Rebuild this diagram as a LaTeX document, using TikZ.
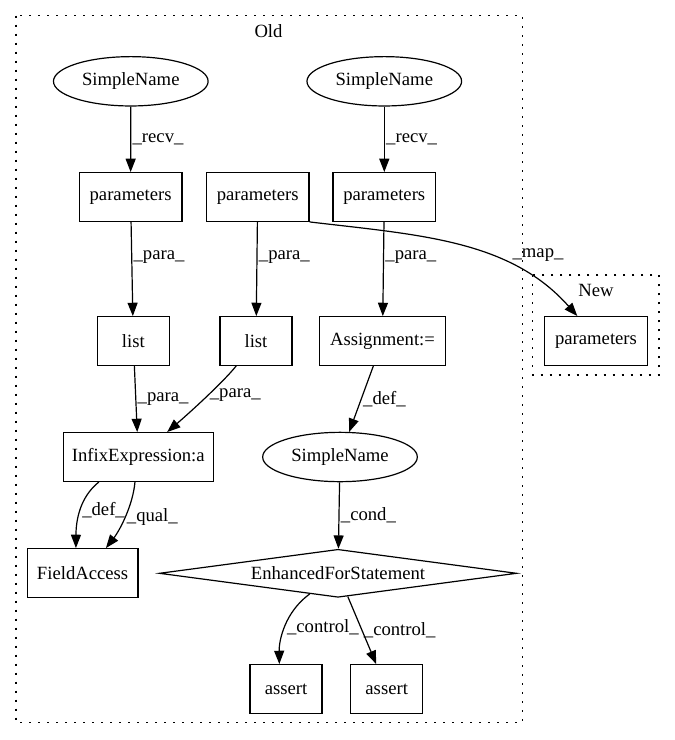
\documentclass[tikz,border=0pt]{standalone}
\usepackage{fontspec}
\setmainfont{Liberation Serif}
\usetikzlibrary{arrows.meta,shapes.geometric}
\begin{document}
\begin{tikzpicture}[x=0.75pt,y=-0.75pt]
  \tikzstyle{box}=[draw,rectangle,line width=0.9pt,inner sep=0pt,minimum height=36.5pt,font=\fontsize{14}{16}\selectfont]
  \tikzstyle{oval}=[draw,ellipse,line width=0.9pt,inner sep=0pt,minimum width=116pt,minimum height=37pt,font=\fontsize{14}{16}\selectfont]
  \tikzstyle{cond}=[draw,diamond,aspect=7.4,line width=0.9pt,inner sep=0pt,minimum width=268pt,minimum height=36pt,font=\fontsize{14}{16}\selectfont]
  \tikzstyle{edge}=[line width=0.9pt,-{Triangle[length=10pt,width=7.5pt]}]
  \tikzstyle{lbl}=[inner sep=1pt,font=\fontsize{14}{16}\selectfont]
  \tikzstyle{cluster}=[line width=0.9pt,dash pattern=on 1.5pt off 5.25pt]
  \useasboundingbox (0,0) rectangle (675,740);
  \draw[cluster] (16,15.7) rectangle (522.7,722.3);
  \node[lbl] (old) at (268.5,30.7) {Old};
  \draw[cluster] (532.7,275) rectangle (659,375);
  \node[lbl] (new) at (596,290.7) {New};
  \node[oval] (sn1) at (130.8,81.3) {SimpleName};
  \node[oval] (sn2) at (384.3,81.3) {SimpleName};
  \node[box,minimum width=77pt] (par1) at (130.6,197) {parameters};
  \node[box,minimum width=77pt] (par2) at (257.7,197) {parameters};
  \node[box,minimum width=77pt] (par3) at (384.3,197) {parameters};
  \node[box,minimum width=54pt] (list1) at (133.3,341) {list};
  \node[box,minimum width=54pt] (list2) at (256,341) {list};
  \node[box,minimum width=95pt] (asg) at (382.5,341) {Assignment:=};
  \node[box,minimum width=77pt] (parnew) at (596,341) {parameters};
  \node[box,minimum width=112.5pt] (infix) at (138.3,457) {InfixExpression:a};
  \node[oval] (sn3) at (340,457) {SimpleName};
  \node[box,minimum width=83pt] (fa) at (82.6,573) {FieldAccess};
  \node[cond] (efs) at (338,573.3) {EnhancedForStatement};
  \node[box,minimum width=54pt] (as1) at (286,689) {assert};
  \node[box,minimum width=54pt] (as2) at (386.7,689) {assert};
  \draw[edge] (sn1) -- node[lbl,right] {\_recv\_} (par1);
  \draw[edge] (sn2) -- node[lbl,right] {\_recv\_} (par3);
  \draw[edge] (par1) -- node[lbl,right,pos=0.37] {\_para\_} (list1);
  \draw[edge] (par2) -- node[lbl,right,pos=0.37] {\_para\_} (list2);
  \draw[edge] (par3) -- node[lbl,right,pos=0.37] {\_para\_} (asg);
  \draw[edge] (par2.south east) .. controls (420,235) and (510,240) .. ([xshift=-14pt]parnew.north) node[lbl,right,pos=0.7,yshift=7pt] {\_map\_};
  \draw[edge] (list1) -- node[lbl,right] {\_para\_} (infix);
  \draw[edge] (list2) .. controls (225,380) and (195,408) .. (infix) node[lbl,right,pos=0.5] {\_para\_};
  \draw[edge] (asg) -- node[lbl,right] {\_def\_} (sn3);
  \draw[edge] ([xshift=-29.5pt]infix.south) .. controls (80,497) and (76,520) .. ([xshift=-5pt]fa.north) node[lbl,right,pos=0.5] {\_def\_};
  \draw[edge] ([xshift=-2.5pt]infix.south) .. controls (133,505) and (120,530) .. ([xshift=17.5pt]fa.north) node[lbl,right,pos=0.5] {\_qual\_};
  \draw[edge] (sn3) -- node[lbl,right] {\_cond\_} (efs);
  \draw[edge] (efs) .. controls (285,612) and (279,640) .. ([xshift=-5pt]as1.north) node[lbl,right,pos=0.5] {\_control\_};
  \draw[edge] (efs) -- node[lbl,right] {\_control\_} (as2);
\end{tikzpicture}
\end{document}
